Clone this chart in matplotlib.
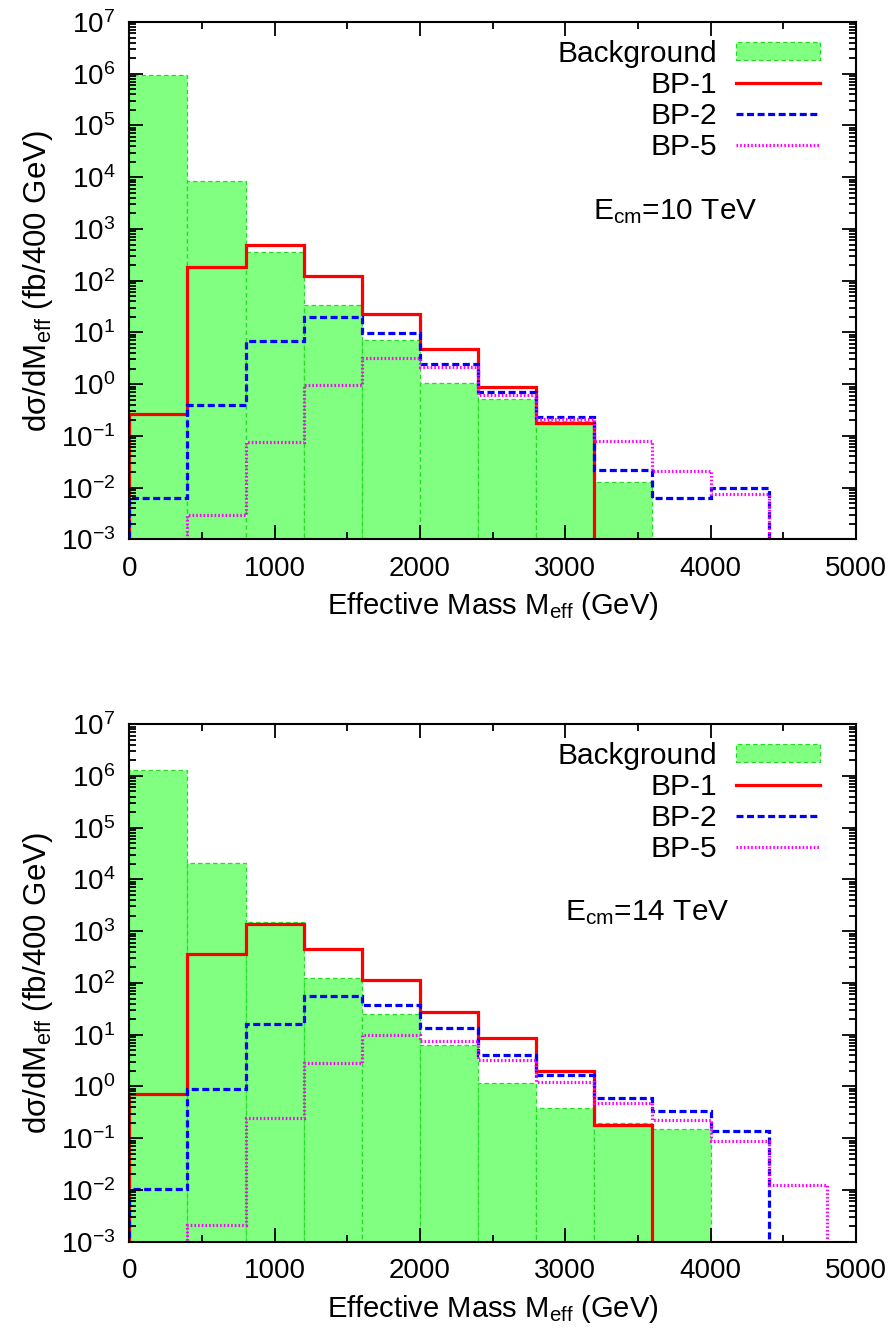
import numpy as np
import matplotlib
matplotlib.use("Agg")
import matplotlib.pyplot as plt
from matplotlib.patches import Patch
from matplotlib.lines import Line2D
from matplotlib.ticker import LogLocator, MultipleLocator

plt.rcParams['font.family'] = ['Liberation Sans', 'DejaVu Sans']
plt.rcParams['mathtext.fontset'] = 'custom'
plt.rcParams['mathtext.rm'] = 'Liberation Sans'
plt.rcParams['mathtext.it'] = 'Liberation Sans'

# bin edges of M_eff (GeV), 400 GeV bins
edges = np.arange(0, 4801, 400)

# Ecm = 10 TeV
bkg_10 = [9.6e5, 8.5e3, 365, 34, 7.0, 1.04, 0.51, 0.19, 0.013, 0, 0, 0]
bp1_10 = [0.26, 185, 500, 124, 22.6, 4.8, 0.87, 0.18, 0, 0, 0, 0]
bp2_10 = [0.0064, 0.40, 6.7, 20, 9.6, 2.5, 0.70, 0.23, 0.022, 0.0064, 0.0099, 0]
bp5_10 = [0, 0.0030, 0.077, 0.97, 3.2, 2.1, 0.63, 0.21, 0.080, 0.021, 0.0076, 0]

# Ecm = 14 TeV
bkg_14 = [1.3e6, 2.1e4, 1.5e3, 126, 25, 6.3, 1.18, 0.39, 0.20, 0.15, 0, 0]
bp1_14 = [0.71, 360, 1360, 450, 114, 27, 8.6, 1.95, 0.18, 0, 0, 0]
bp2_14 = [0.0103, 0.90, 16, 55, 37, 13.6, 4.0, 1.7, 0.59, 0.33, 0.14, 0]
bp5_14 = [0, 0.0021, 0.25, 2.9, 9.8, 7.7, 3.2, 1.23, 0.49, 0.23, 0.089, 0.0125]

panels = [
    (bkg_10, bp1_10, bp2_10, bp5_10, "E$_{\\mathrm{cm}}$=10 TeV", (0.751, 0.634)),
    (bkg_14, bp1_14, bp2_14, bp5_14, "E$_{\\mathrm{cm}}$=14 TeV", (0.713, 0.635)),
]

floor = 1e-5
fill_col = '#80ff80'
edge_col = '#22dd22'
dash_bkg = (0, (3.5, 2.5))
dash_bp2 = (0, (2.2, 1.1))
dot_bp5 = (0, (0.5, 0.65))
lw = 2.3

fig = plt.figure(figsize=(8.96, 13.42), dpi=100)
ax_pos = [[0.1443, 0.5981, 0.811, 0.3855], [0.1443, 0.0747, 0.811, 0.3857]]

for pos, (bkg, bp1, bp2, bp5, label, tpos) in zip(ax_pos, panels):
    ax = fig.add_axes(pos)
    bkg = np.array(bkg, dtype=float)
    ax.bar(edges[:-1], bkg, width=400, bottom=floor, align='edge',
           color=fill_col, edgecolor=edge_col, linestyle=dash_bkg, linewidth=0.9)

    styles = [(bp1, '#ff0000', '-'), (bp2, '#0000ff', dash_bp2), (bp5, '#ff00ff', dot_bp5)]
    for vals, col, ls in styles:
        v = np.array(vals, dtype=float)
        v = np.where(v > 0, v, floor)
        ax.stairs(v, edges, baseline=floor, color=col, linestyle=ls, linewidth=lw)

    ax.set_yscale('log')
    ax.set_ylim(1e-3, 1e7)
    ax.set_xlim(0, 5000)
    ax.xaxis.set_major_locator(MultipleLocator(1000))
    ax.xaxis.set_minor_locator(MultipleLocator(500))
    ax.yaxis.set_major_locator(LogLocator(base=10, numticks=20))
    ax.yaxis.set_minor_locator(LogLocator(base=10, subs=np.arange(2, 10), numticks=20))
    ax.tick_params(which='both', direction='in', top=True, right=True, labelsize=20)
    ax.tick_params(which='major', length=10, width=1.3)
    ax.tick_params(which='minor', length=5, width=1.3)
    ax.tick_params(axis='x', which='major', pad=12)
    ax.tick_params(axis='y', which='major', pad=10)
    for s in ax.spines.values():
        s.set_linewidth(1.5)

    ax.set_xlabel("Effective Mass M$_{\\mathrm{eff}}$ (GeV)", fontsize=21, labelpad=6)
    ax.set_ylabel("d\u03c3/dM$_{\\mathrm{eff}}$ (fb/400 GeV)", fontsize=22.5, labelpad=4)
    ax.text(tpos[0], tpos[1], label, transform=ax.transAxes, ha='center', va='center',
            fontsize=21.5)

    handles = [
        Patch(facecolor=fill_col, edgecolor=edge_col, linestyle=dash_bkg, linewidth=0.9),
        Line2D([], [], color='#ff0000', linestyle='-', linewidth=lw),
        Line2D([], [], color='#0000ff', linestyle=dash_bp2, linewidth=lw),
        Line2D([], [], color='#ff00ff', linestyle=dot_bp5, linewidth=lw),
    ]
    leg = ax.legend(handles, ["Background", "BP-1", "BP-2", "BP-5"], loc='upper right',
                    frameon=False, markerfirst=False, fontsize=21.5, handlelength=2.8,
                    handleheight=0.55, labelspacing=0.1, handletextpad=0.63,
                    borderpad=0, borderaxespad=0, bbox_to_anchor=(0.95, 0.966))
    for col in leg._legend_handle_box.get_children():
        col.align = 'right'

fig.savefig("out.png", dpi=100)
